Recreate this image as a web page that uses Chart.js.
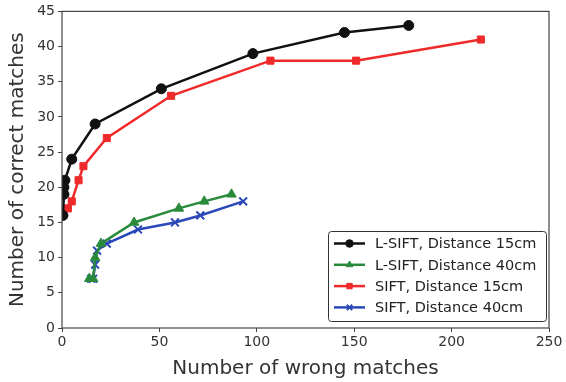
<!DOCTYPE html>
<html><head><meta charset="utf-8">
<script src="https://cdn.jsdelivr.net/npm/chart.js@4/dist/chart.umd.min.js"></script>
<style>html,body{margin:0;padding:0;background:#fff}#c{display:block}</style>
</head><body>
<canvas id="c" width="566" height="382"></canvas>
<script>
const seriesNames = ["L-SIFT, Distance 15cm","L-SIFT, Distance 40cm","SIFT, Distance 15cm","SIFT, Distance 40cm"];
const lsift15X = [0.5, 1, 1, 1.5, 5, 17, 51, 98, 145, 178];
const lsift15Y = [16, 19, 20, 21, 24, 29, 34, 39, 42, 43];
const lsift40X = [14, 16, 17, 20, 37, 60, 73, 87];
const lsift40Y = [7, 7, 10, 12, 15, 17, 18, 19];
const sift15X = [3, 5, 8.5, 11, 23, 56, 107, 151, 215];
const sift15Y = [17, 18, 21, 23, 27, 33, 38, 38, 41];
const sift40X = [15, 16, 17, 18, 23, 39, 58, 71, 93];
const sift40Y = [7, 7, 9, 11, 12, 14, 15, 16, 18];
const xTicks = [0, 50, 100, 150, 200, 250];
const yTicks = [0, 5, 10, 15, 20, 25, 30, 35, 40, 45];

const pts = (xs, ys) => xs.map((x, i) => ({x, y: ys[i]}));
const styles = [
  {c:'#111111', m:'circle', r:5},
  {c:'#2a8a3c', m:'triangle', r:5.5},
  {c:'#ee2a2a', m:'rect', r:5},
  {c:'#2a48b8', m:'crossRot', r:5.5}
];
const dataArr = [pts(lsift15X,lsift15Y), pts(lsift40X,lsift40Y), pts(sift15X,sift15Y), pts(sift40X,sift40Y)];
const datasets = dataArr.map((d, i) => ({
  label: seriesNames[i], data: d, showLine: true,
  borderColor: styles[i].c, backgroundColor: styles[i].c,
  pointBorderColor: styles[i].c, pointBackgroundColor: styles[i].c,
  pointStyle: styles[i].m, pointRadius: styles[i].r, pointBorderWidth: i===3?2:1,
  borderWidth: 2.5, tension: 0
}));

const tickFont = {family: 'DejaVu Sans', size: 14};
const titleFont = {family: 'DejaVu Sans', size: 20};
const boxPlugin = {
  id: 'box',
  afterDatasetsDraw(chart) {
    const {ctx, chartArea: a} = chart;
    ctx.save();
    ctx.strokeStyle = '#444'; ctx.lineWidth = 1.2;
    ctx.strokeRect(a.left, a.top, a.right - a.left, a.bottom - a.top);
    // legend
    const lx = 328, ly = 231, lw = 218, lh = 90;
    ctx.fillStyle = 'rgba(255,255,255,0.9)';
    ctx.strokeStyle = '#333'; ctx.lineWidth = 1;
    ctx.beginPath();
    if (ctx.roundRect) ctx.roundRect(lx+0.5, ly+0.5, lw, lh, 3); else ctx.rect(lx+0.5, ly+0.5, lw, lh);
    ctx.fill(); ctx.stroke();
    ctx.font = '14.5px "DejaVu Sans"';
    ctx.textBaseline = 'middle';
    chart.data.datasets.forEach((ds, i) => {
      const y = ly + 12.5 + i * 21.3;
      ctx.strokeStyle = ds.borderColor; ctx.lineWidth = 2.5;
      ctx.beginPath(); ctx.moveTo(lx + 6, y); ctx.lineTo(lx + 37, y); ctx.stroke();
      ctx.fillStyle = ds.borderColor; ctx.strokeStyle = ds.borderColor;
      ctx.lineWidth = ds.pointBorderWidth;
      Chart.helpers.drawPoint(ctx, {pointStyle: ds.pointStyle, radius: 3.8, borderWidth: ds.pointBorderWidth, rotation: 0}, lx + 21.5, y);
      ctx.fillStyle = '#222';
      ctx.fillText(ds.label, lx + 47, y + 1);
    });
    ctx.restore();
  }
};

new Chart(document.getElementById('c'), {
  type: 'scatter',
  data: {datasets},
  options: {
    responsive: false, animation: false,
    layout: {padding: {top: 10, right: 17, left: 0, bottom: 0}},
    plugins: {legend: {display: false}, tooltip: {enabled: false}},
    scales: {
      x: {
        type: 'linear', min: 0, max: 250,
        afterBuildTicks: s => { s.ticks = xTicks.map(v => ({value: v})); },
        afterFit: s => { s.height = 54; },
        grid: {display: true, drawOnChartArea: false, drawTicks: true, tickLength: 4, color: '#444'},
        border: {display: false},
        ticks: {font: tickFont, color: '#333', padding: 2, maxRotation: 0},
        title: {display: true, text: 'Number of wrong matches', font: titleFont, color: '#333', padding: {top: 0, bottom: 1}}
      },
      y: {
        type: 'linear', min: 0, max: 45,
        afterBuildTicks: s => { s.ticks = yTicks.map(v => ({value: v})); },
        afterFit: s => { s.width = 62; },
        grid: {display: true, drawOnChartArea: false, drawTicks: true, tickLength: 4, color: '#444'},
        border: {display: false},
        ticks: {font: tickFont, color: '#333', padding: 3},
        title: {display: true, text: 'Number of correct matches', font: titleFont, color: '#333', padding: {top: 6, bottom: 0}}
      }
    }
  },
  plugins: [boxPlugin]
});
</script>
</body></html>
